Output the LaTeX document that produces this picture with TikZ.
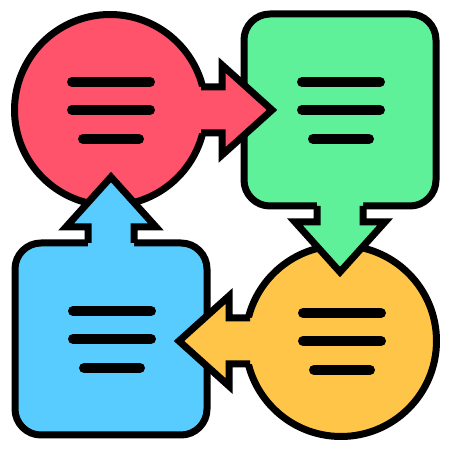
\documentclass[tikz,border=0pt]{standalone}
\usepackage{xcolor}
\usetikzlibrary{calc}
\definecolor{chatred}{HTML}{FF526B}
\definecolor{notegreen}{HTML}{5FF09A}
\definecolor{chatyellow}{HTML}{FFC548}
\definecolor{noteblue}{HTML}{59CCFF}
\tikzset{
outline/.style={line width=7pt, line join=round},
bubble/.style={circle, draw, outline, minimum size=191pt, inner sep=0pt},
note/.style={rectangle, draw, outline, minimum size=192pt, rounded corners=26pt, inner sep=0pt},
textline/.style={line width=10pt, line cap=round},
}
% #1 body, #2 direction, #3 colour, #4 where the outline leaves the body
\newcommand\flowarrow[4]{%
\begin{scope}[shift={(#1.center)},rotate=#2]
\fill[#3] (80,-23) -- (112,-23) -- (112,-45) -- (162,0) -- (112,45) -- (112,23) -- (80,23) -- cycle;
\draw[outline,line join=miter] (#4,23) -- (112,23) -- (112,45) -- (162,0) -- (112,-45) -- (112,-23) -- (#4,-23);
\end{scope}}

\begin{document}
\begin{tikzpicture}[x=1pt,y=1pt]
\useasboundingbox (0,0) rectangle (450,450);
% the four bodies
\node[bubble, fill=chatred] (redchat) at (110,340) {};
\node[note, fill=notegreen] (greennote) at (340,340) {};
\node[bubble, fill=chatyellow] (yellowchat) at (341,109) {};
\node[note, fill=noteblue] (bluenote) at (111,111) {};
% the arrows
\flowarrow{redchat}{0}{chatred}{91}
\flowarrow{greennote}{-90}{notegreen}{96}
\flowarrow{yellowchat}{180}{chatyellow}{91}
\flowarrow{bluenote}{90}{noteblue}{96}
% the text lines
\foreach \b in {redchat,greennote,yellowchat,bluenote}
{
  \draw[textline] ($(\b.center)+(-38,28)$) -- ($(\b.center)+(40,28)$);
  \draw[textline] ($(\b.center)+(-38,0)$) -- ($(\b.center)+(40,0)$);
  \draw[textline] ($(\b.center)+(-27,-29)$) -- ($(\b.center)+(29,-29)$);
}
\end{tikzpicture}
\end{document}
